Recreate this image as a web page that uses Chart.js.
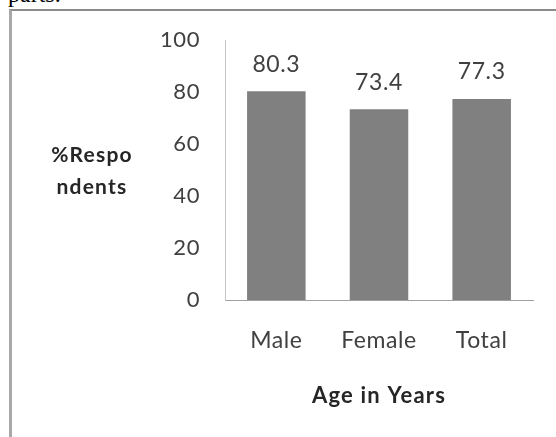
<!DOCTYPE html>
<html>
<head>
<meta charset="utf-8">
<script src="https://cdn.jsdelivr.net/npm/chart.js@4/dist/chart.umd.min.js"></script>
<style>
  html, body { margin: 0; padding: 0; background: #fff; }
  #wrap { position: relative; width: 556px; height: 437px; overflow: hidden; }
  #clip-text {
    position: absolute; left: 8px; top: -19px;
    font: 24px "Liberation Serif", "Times New Roman", serif; color: #000;
  }
  #frame {
    position: absolute; left: 9px; top: 9px; width: 544px; height: 440px;
    border-top: 2px solid #8c8c8c; border-left: 3px solid #a8a8a8; border-right: 1px solid #ececec;
  }
  #chart { position: absolute; left: 0; top: 0; }
</style>
</head>
<body>
<div id="wrap">
  <div id="clip-text">parts.</div>
  <div id="frame"></div>
  <canvas id="chart" width="556" height="437"></canvas>
</div>
<script>
// datos
const categories = ['Male', 'Female', 'Total'];
const respondents = [80.3, 73.4, 77.3];
const yTicks = [0, 20, 40, 60, 80, 100];
const yTitleLines = ['%Respo', 'ndents'];
const xTitle = 'Age in Years';

const FONT = 'Lato, "Open Sans", sans-serif';

// espaciado de letras un poco más abierto, como en la imagen original
const spacing = {
    id: 'spacing',
    beforeDraw(chart) { chart.ctx.letterSpacing = '0.6px'; }
};

// etiquetas de valor encima de cada barra
const valueLabels = {
    id: 'valueLabels',
    afterDatasetsDraw(chart) {
        const ctx = chart.ctx;
        const meta = chart.getDatasetMeta(0);
        ctx.save();
        ctx.font = '23px ' + FONT;
        ctx.fillStyle = '#404040';
        ctx.textAlign = 'center';
        ctx.textBaseline = 'middle';
        meta.data.forEach((bar, i) => {
            ctx.fillText(respondents[i].toFixed(1), bar.x, bar.y - 27);
        });
        ctx.restore();
    }
};

// títulos de los ejes: el de Y en horizontal y partido en dos líneas
const axisTitles = {
    id: 'axisTitles',
    afterDraw(chart) {
        const ctx = chart.ctx;
        const area = chart.chartArea;
        const cx = area.left - 133;
        const cy = (area.top + area.bottom) / 2;
        ctx.save();
        ctx.font = 'bold 21px ' + FONT;
        ctx.letterSpacing = '1.2px';
        ctx.fillStyle = '#262626';
        ctx.textAlign = 'center';
        ctx.textBaseline = 'middle';
        ctx.fillText(yTitleLines[0], cx, cy - 15);
        ctx.fillText(yTitleLines[1], cx, cy + 17);
        ctx.font = 'bold 22px ' + FONT;
        ctx.fillText(xTitle, (area.left + area.right) / 2, area.bottom + 96);
        ctx.restore();
    }
};

new Chart(document.getElementById('chart'), {
    type: 'bar',
    data: {
        labels: categories,
        datasets: [{
            data: respondents,
            backgroundColor: '#808080',
            barPercentage: 0.57,
            categoryPercentage: 1
        }]
    },
    options: {
        responsive: false,
        animation: false,
        layout: { padding: { left: 0, right: 23, top: 40, bottom: 0 } },
        plugins: {
            legend: { display: false },
            tooltip: { enabled: false }
        },
        scales: {
            x: {
                grid: { display: false, drawTicks: false },
                border: { color: '#a0a0a0', width: 1 },
                ticks: { font: { family: FONT, size: 23 }, color: '#404040', padding: 27 },
                afterFit(scale) { scale.height = 137; }
            },
            y: {
                min: 0, max: 100,
                afterBuildTicks(scale) { scale.ticks = yTicks.map(v => ({ value: v })); },
                grid: { display: false, drawTicks: false },
                border: { color: '#c4c4c4', width: 1 },
                ticks: { font: { family: FONT, size: 22 }, color: '#404040', padding: 25 },
                afterFit(scale) { scale.width = 225; }
            }
        }
    },
    plugins: [spacing, valueLabels, axisTitles]
});
</script>
</body>
</html>
